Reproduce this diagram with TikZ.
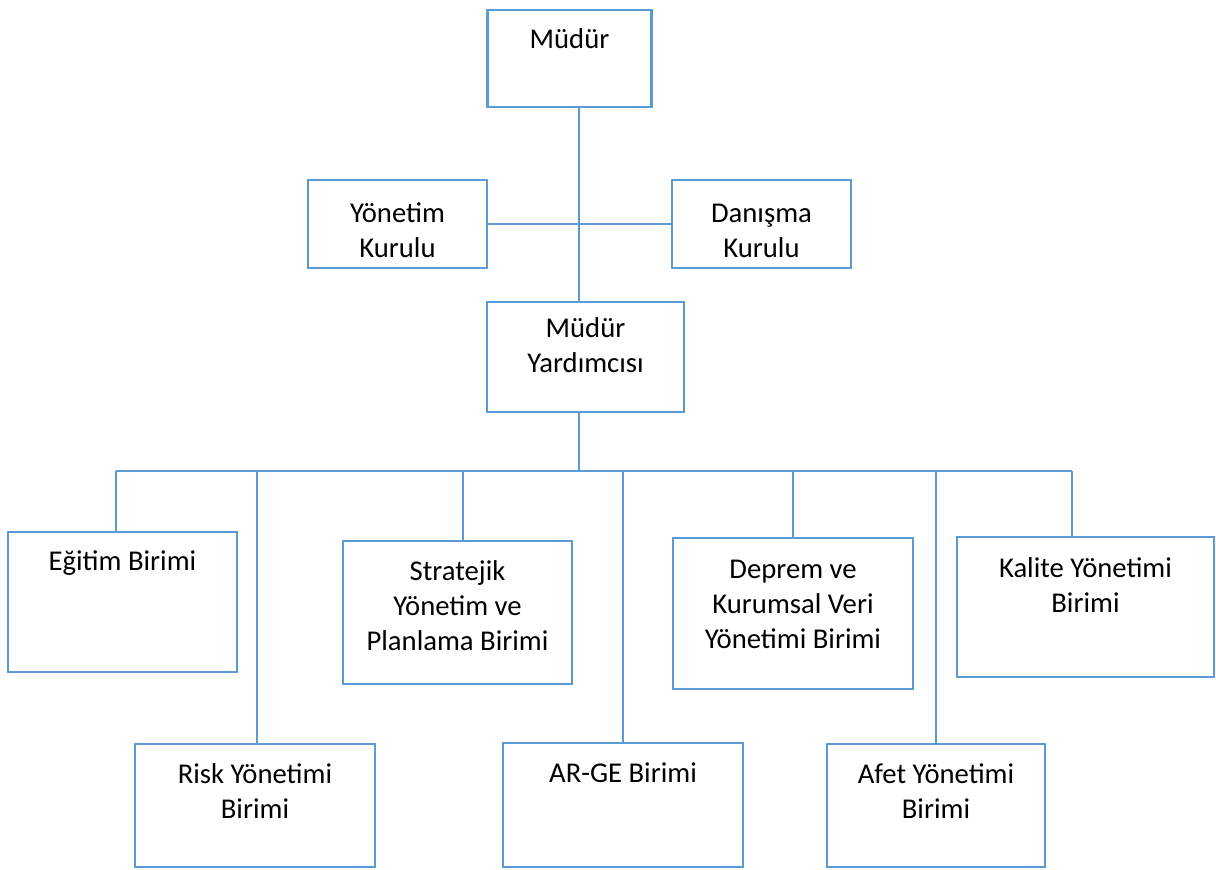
\documentclass[tikz,border=0pt]{standalone}
\usepackage{fontspec}
\setmainfont{Carlito}
\usepackage{xcolor}
\definecolor{kenar}{HTML}{5B9BD5}

\begin{document}
\begin{tikzpicture}[x=0.75pt,y=0.75pt,yscale=-1,xscale=1,
  kutu/.style={draw=kenar,line width=2.1pt,rectangle,inner sep=0pt,outer sep=0pt},
  yazi/.style={anchor=north,inner sep=0pt,align=center,font=\fontsize{21.5}{26.25}\selectfont},
  baglanti/.style={draw=kenar,line width=1.3pt}]

\useasboundingbox (0,0) rectangle (1216,869);

\node [kutu,minimum width=123pt,minimum height=72.75pt] (mudur) at (569.5,58.5) {};
\node [kutu,minimum width=134.25pt,minimum height=66pt] (yonetim) at (397.5,224) {};
\node [kutu,minimum width=134.25pt,minimum height=66pt] (danisma) at (761.5,224) {};
\node [kutu,minimum width=147.75pt,minimum height=82.5pt] (yard) at (585.5,357) {};

\node [kutu,minimum width=171.75pt,minimum height=105pt] (egitim) at (122.5,602) {};
\node [kutu,minimum width=180pt,minimum height=92.25pt] (risk) at (255,805.5) {};
\node [kutu,minimum width=171.75pt,minimum height=107.25pt] (strateji) at (457.5,612.5) {};
\node [kutu,minimum width=180pt,minimum height=93pt] (arge) at (623,805) {};
\node [kutu,minimum width=180pt,minimum height=113.25pt] (deprem) at (793,613.5) {};
\node [kutu,minimum width=163.5pt,minimum height=92.25pt] (afet) at (936,805.5) {};
\node [kutu,minimum width=192.75pt,minimum height=105pt] (kalite) at (1085.5,607) {};

\node [yazi] (mudur-t) at ([yshift=10pt]mudur.north) {\strut Müdür};
\node [yazi] (yonetim-t) at ([yshift=13.6pt]yonetim.north) {\strut Yönetim\\Kurulu};
\node [yazi] (danisma-t) at ([yshift=13.6pt]danisma.north) {\strut Danışma\\Kurulu};
\node [yazi] (yard-t) at ([yshift=8pt]yard.north) {\strut Müdür\\Yardımcısı};
\node [yazi] (egitim-t) at ([yshift=10pt]egitim.north) {\strut Eğitim Birimi};
\node [yazi] (risk-t) at ([yshift=11pt]risk.north) {\strut Risk Yönetimi\\Birimi};
\node [yazi] (strateji-t) at ([yshift=11pt]strateji.north) {\strut Stratejik\\Yönetim ve\\Planlama Birimi};
\node [yazi] (arge-t) at ([yshift=11pt]arge.north) {\strut AR-GE Birimi};
\node [yazi] (deprem-t) at ([yshift=11.5pt]deprem.north) {\strut Deprem ve\\Kurumsal Veri\\Yönetimi Birimi};
\node [yazi] (afet-t) at ([yshift=11pt]afet.north) {\strut Afet Yönetimi\\Birimi};
\node [yazi] (kalite-t) at ([yshift=11.5pt]kalite.north) {\strut Kalite Yönetimi\\Birimi};

\coordinate (kol) at (579,471);
\draw [baglanti] (kol |- mudur.south) -- (kol |- yard.north);
\draw [baglanti] (yonetim.east) -- (danisma.west);
\draw [baglanti] (kol |- yard.south) -- (kol);

\foreach \i/\x/\n in {1/116/egitim,2/257/risk,3/463/strateji,4/623/arge,5/793/deprem,6/936/afet,7/1072/kalite}{
  \coordinate (b\i) at (\x,471);
  \draw [baglanti] (b\i) -- (b\i |- \n.north);
}
\draw [baglanti] (b1) -- (b7);

\end{tikzpicture}
\end{document}
